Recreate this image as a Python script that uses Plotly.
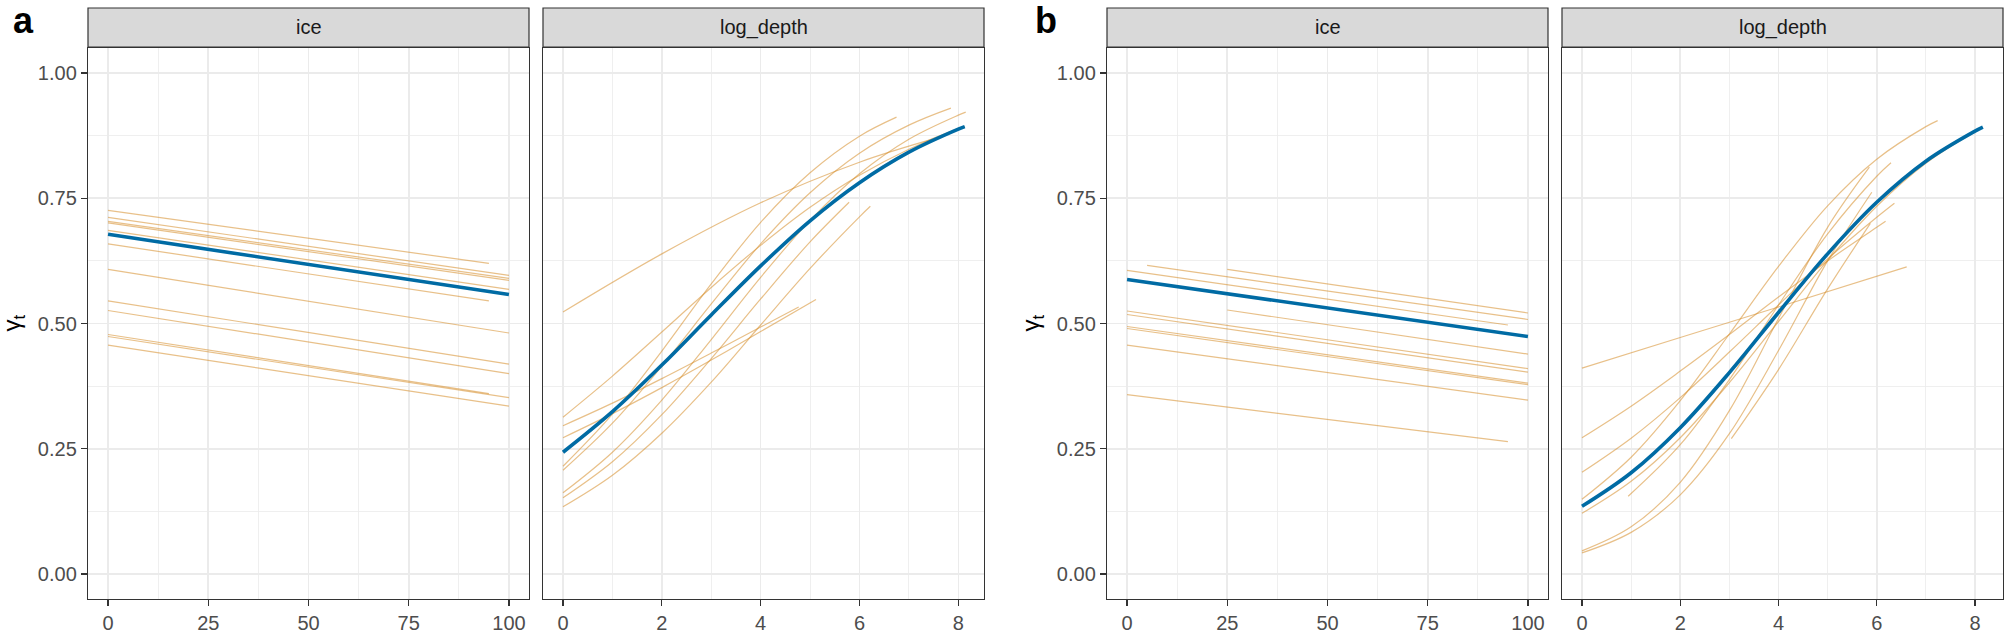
import plotly.graph_objects as go

W, H = 2007, 630

# ---------------- data ----------------
panel_letters = ["a", "b"]
facet_names = ["ice", "log_depth"]
y_tick_vals = [0.0, 0.25, 0.5, 0.75, 1.0]
y_tick_text = ["0.00", "0.25", "0.50", "0.75", "1.00"]
ice_ticks = [0, 25, 50, 75, 100]
depth_ticks = [0, 2, 4, 6, 8]

# panel a, ice facet: group lines
a_ice_x = [[0, 95], [0, 100], [0, 100], [0, 100], [0, 100], [0, 95],
           [0, 100], [0, 100], [0, 100], [0, 95], [0, 100], [0, 100]]
a_ice_y = [[0.726, 0.620], [0.712, 0.596], [0.704, 0.590], [0.701, 0.586],
           [0.686, 0.568], [0.659, 0.545], [0.608, 0.481], [0.545, 0.419],
           [0.526, 0.400], [0.478, 0.360], [0.474, 0.352], [0.457, 0.335]]
a_ice_mean_x = [0, 100]
a_ice_mean_y = [0.678, 0.558]

# panel a, log_depth facet: group curves
a_dep_x = [
    [0, 2, 4, 6, 7.48],
    [0, 1, 2, 3, 4, 4.77],
    [0, 1, 2, 3, 4, 5.12],
    [0, 1, 2, 3, 4, 5, 6, 6.75],
    [0, 1, 2, 3, 4, 5, 6, 7, 7.85],
    [0, 1, 2, 3, 4, 5, 6, 7, 8, 8.15],
    [0, 1, 2, 3, 4, 5, 6, 7, 8, 8.13],
    [0, 1, 2, 3, 4, 5, 5.79],
    [0, 1, 2, 3, 4, 5, 6, 6.22],
]
a_dep_y = [
    [0.523, 0.639, 0.741, 0.822, 0.868],
    [0.296, 0.341, 0.390, 0.441, 0.493, 0.533],
    [0.272, 0.320, 0.372, 0.427, 0.484, 0.548],
    [0.215, 0.319, 0.445, 0.579, 0.702, 0.801, 0.874, 0.912],
    [0.207, 0.301, 0.415, 0.539, 0.659, 0.761, 0.840, 0.896, 0.930],
    [0.162, 0.243, 0.347, 0.468, 0.592, 0.706, 0.799, 0.868, 0.916, 0.922],
    [0.313, 0.395, 0.483, 0.572, 0.656, 0.732, 0.796, 0.848, 0.889, 0.893],
    [0.152, 0.224, 0.318, 0.430, 0.549, 0.663, 0.742],
    [0.134, 0.197, 0.281, 0.383, 0.497, 0.610, 0.713, 0.734],
]
a_dep_mean_x = [0, 1, 2, 3, 4, 5, 6, 7, 8, 8.13]
a_dep_mean_y = [0.243, 0.324, 0.417, 0.517, 0.615, 0.705, 0.781, 0.842, 0.888, 0.893]

# panel b, ice facet
b_ice_x = [[5, 100], [25, 100], [0, 95], [25, 100], [0, 100], [0, 100],
           [0, 100], [0, 100], [0, 100], [0, 95]]
b_ice_y = [[0.616, 0.508], [0.608, 0.521], [0.606, 0.497], [0.527, 0.439],
           [0.525, 0.410], [0.518, 0.403], [0.494, 0.381], [0.490, 0.378],
           [0.457, 0.347], [0.358, 0.264]]
b_ice_mean_x = [0, 100]
b_ice_mean_y = [0.588, 0.474]

# panel b, log_depth facet
b_dep_x = [
    [0, 2, 4, 6.61],
    [0, 1, 2, 3, 4, 5, 6, 6.18],
    [0, 1, 2, 3, 4, 5, 6, 6.36],
    [0, 1, 2, 3, 4, 5, 6, 7, 7.24],
    [0, 1, 2, 3, 4, 5, 6, 7, 8, 8.16],
    [0, 1, 2, 3, 4, 5, 5.85],
    [0, 1, 2, 3, 4, 5, 5.9],
    [0.94, 2, 3, 4, 5, 6, 6.29],
    [3.04, 4, 5, 5.87],
]
b_dep_y = [
    [0.411, 0.472, 0.533, 0.613],
    [0.272, 0.335, 0.405, 0.478, 0.553, 0.625, 0.692, 0.704],
    [0.203, 0.271, 0.352, 0.443, 0.537, 0.629, 0.712, 0.740],
    [0.149, 0.233, 0.346, 0.479, 0.614, 0.735, 0.828, 0.893, 0.905],
    [0.121, 0.185, 0.272, 0.382, 0.504, 0.626, 0.734, 0.820, 0.883, 0.891],
    [0.046, 0.094, 0.183, 0.326, 0.510, 0.692, 0.812],
    [0.042, 0.083, 0.158, 0.280, 0.446, 0.625, 0.762],
    [0.155, 0.258, 0.388, 0.537, 0.679, 0.794, 0.821],
    [0.270, 0.408, 0.569, 0.700],
]
b_dep_mean_x = [0, 1, 2, 3, 4, 5, 6, 7, 8, 8.16]
b_dep_mean_y = [0.135, 0.202, 0.292, 0.402, 0.522, 0.639, 0.742, 0.824, 0.884, 0.892]

# ---------------- styling ----------------
ORANGE = "rgba(214,140,40,0.55)"
BLUE = "#006BA4"
GRID = "#EBEBEB"
BORDER = "#333333"
TICKTXT = "#4D4D4D"
FONT = "Liberation Sans, Arial, sans-serif"

# pixel layout
px_x = [(88, 529), (543, 984), (1107, 1548), (1562, 2003)]
px_top, px_bot = 48, 599
strip_top, strip_bot = 8, 47


def fx(p):
    return p / W


def fy(p):
    return 1 - p / H


fig = go.Figure()

panels = [
    (a_ice_x, a_ice_y, a_ice_mean_x, a_ice_mean_y, "linear"),
    (a_dep_x, a_dep_y, a_dep_mean_x, a_dep_mean_y, "spline"),
    (b_ice_x, b_ice_y, b_ice_mean_x, b_ice_mean_y, "linear"),
    (b_dep_x, b_dep_y, b_dep_mean_x, b_dep_mean_y, "spline"),
]

for i, (gx, gy, mx, my, shape) in enumerate(panels):
    sfx = "" if i == 0 else str(i + 1)
    for xs, ys in zip(gx, gy):
        fig.add_trace(go.Scatter(x=xs, y=ys, mode="lines",
                                 line=dict(color=ORANGE, width=1.2, shape=shape),
                                 xaxis="x" + sfx, yaxis="y" + sfx,
                                 showlegend=False, hoverinfo="skip"))
    fig.add_trace(go.Scatter(x=mx, y=my, mode="lines",
                             line=dict(color=BLUE, width=3.6, shape=shape),
                             xaxis="x" + sfx, yaxis="y" + sfx,
                             showlegend=False, hoverinfo="skip"))

layout = dict(
    width=W, height=H,
    margin=dict(l=0, r=0, t=0, b=0),
    paper_bgcolor="white", plot_bgcolor="white",
    font=dict(family=FONT, size=20, color=TICKTXT),
    showlegend=False,
)

xranges = [[-5, 105], [-0.405, 8.52], [-5, 105], [-0.407, 8.57]]
for i in range(4):
    sfx = "" if i == 0 else str(i + 1)
    is_ice = i % 2 == 0
    layout["xaxis" + sfx] = dict(
        domain=[fx(px_x[i][0]), fx(px_x[i][1])],
        anchor="y" + sfx,
        range=xranges[i],
        tickmode="array",
        tickvals=ice_ticks if is_ice else depth_ticks,
        ticktext=[str(v) for v in (ice_ticks if is_ice else depth_ticks)],
        ticks="outside", ticklen=6, tickwidth=1.2, tickcolor=BORDER,
        tickfont=dict(family=FONT, size=20, color=TICKTXT),
        showgrid=True, gridcolor=GRID, gridwidth=1.6,
        minor=dict(dtick=12.5 if is_ice else 1, tick0=0, showgrid=True,
                   gridcolor=GRID, gridwidth=0.8, ticks=""),
        showline=True, linecolor=BORDER, linewidth=1.2, mirror=True,
        zeroline=False, automargin=False, fixedrange=True,
    )
    layout["yaxis" + sfx] = dict(
        domain=[fy(px_bot), fy(px_top)],
        anchor="x" + sfx,
        range=[-0.05, 1.05],
        tickmode="array", tickvals=y_tick_vals, ticktext=y_tick_text,
        showticklabels=is_ice,
        ticks="outside" if is_ice else "", ticklen=6, tickwidth=1.2, tickcolor=BORDER,
        tickfont=dict(family=FONT, size=20, color=TICKTXT),
        showgrid=True, gridcolor=GRID, gridwidth=1.6,
        minor=dict(dtick=0.125, tick0=0, showgrid=True,
                   gridcolor=GRID, gridwidth=0.8, ticks=""),
        showline=True, linecolor=BORDER, linewidth=1.2, mirror=True,
        zeroline=False, automargin=False, fixedrange=True,
    )

shapes = []
annotations = []
for i in range(4):
    x0, x1 = fx(px_x[i][0]), fx(px_x[i][1])
    shapes.append(dict(type="rect", xref="paper", yref="paper",
                       x0=x0, x1=x1, y0=fy(strip_bot), y1=fy(strip_top),
                       fillcolor="#D9D9D9", line=dict(color=BORDER, width=1.2),
                       layer="above"))
    annotations.append(dict(text=facet_names[i % 2], xref="paper", yref="paper",
                            x=(x0 + x1) / 2, y=fy((strip_top + strip_bot) / 2),
                            showarrow=False, xanchor="center", yanchor="middle",
                            font=dict(family=FONT, size=20, color="#1A1A1A")))

# panel letters
for letter, px in zip(panel_letters, [23, 1046]):
    annotations.append(dict(text="<b>" + letter + "</b>", xref="paper", yref="paper",
                            x=fx(px), y=fy(21), showarrow=False,
                            xanchor="center", yanchor="middle",
                            font=dict(family=FONT, size=36, color="black")))

# y-axis titles
for px in [13, 1032]:
    annotations.append(dict(text="γ<sub>t</sub>", xref="paper", yref="paper",
                            x=fx(px), y=fy((px_top + px_bot) / 2), showarrow=False,
                            textangle=-90, xanchor="center", yanchor="middle",
                            font=dict(family=FONT, size=24, color="black")))

layout["shapes"] = shapes
layout["annotations"] = annotations
fig.update_layout(**layout)

fig.write_html("out.html",
               config={"displayModeBar": False, "staticPlot": True},
               post_script="document.body.style.margin='0';"
                           "document.body.style.overflow='hidden';")
